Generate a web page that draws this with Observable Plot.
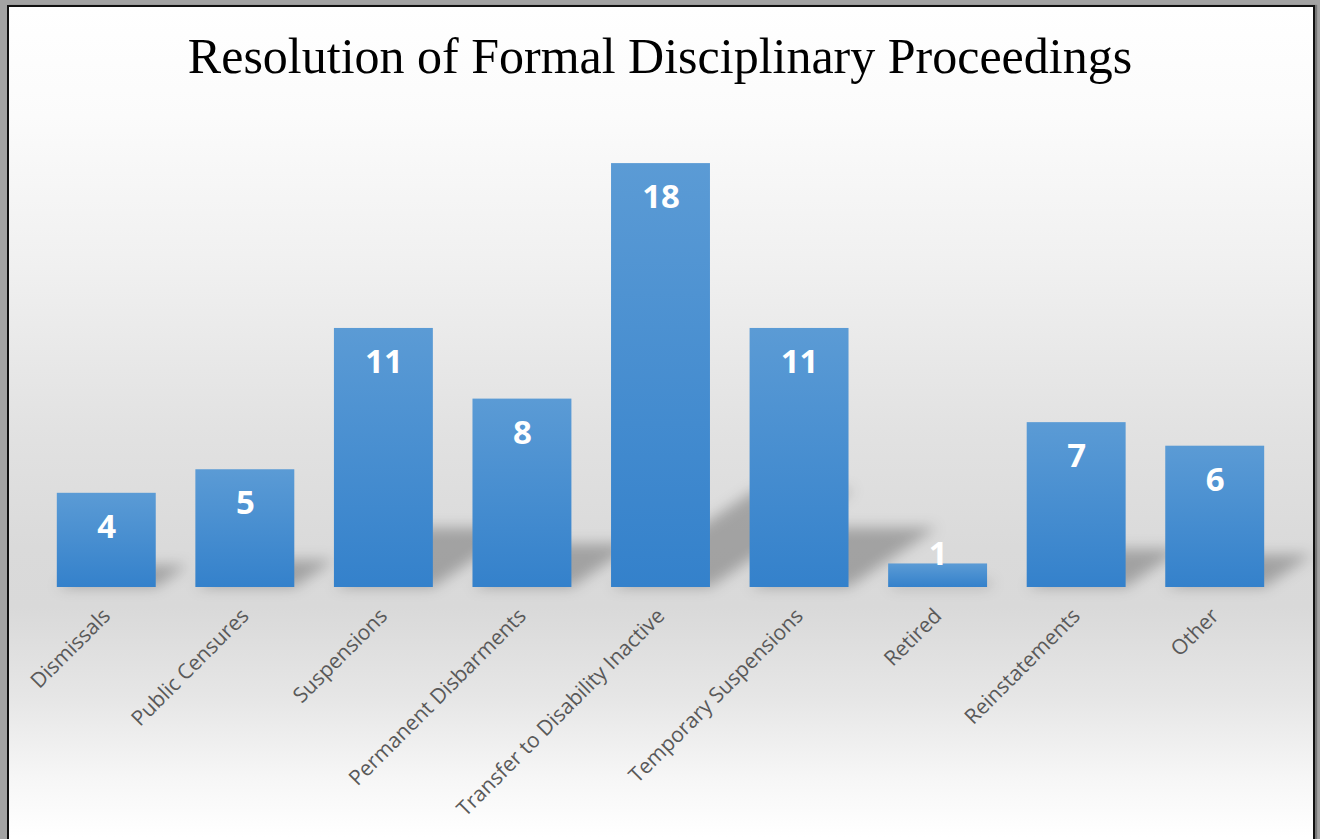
<!DOCTYPE html>
<html><head><meta charset="utf-8">
<script src="https://cdn.jsdelivr.net/npm/d3@7"></script>
<script src="https://cdn.jsdelivr.net/npm/@observablehq/plot@0.6"></script>
<style>
html,body{margin:0;padding:0;width:1320px;height:839px;overflow:hidden;background:#a3a3a3;}
#frame{position:absolute;left:7px;top:5px;width:1304px;height:900px;border:2px solid #111;
  box-shadow:2px 0 1px #777;
  background:linear-gradient(to bottom,#ffffff 0px,#fbfbfb 110px,#f0f0f0 260px,#e2e2e2 420px,#dadada 540px,#d9d9d9 600px,#e6e6e6 690px,#f6f6f6 770px,#ffffff 830px);}
#title{position:absolute;left:0;top:31px;width:1320px;text-align:center;font-family:"Liberation Serif",serif;font-size:50px;line-height:50px;color:#000;}
#chart{position:absolute;left:0;top:95px;}
</style></head>
<body>
<div id="frame"></div>
<div id="title">Resolution of Formal Disciplinary Proceedings</div>
<div id="chart"></div>
<script>
const categories = ["Dismissals","Public Censures","Suspensions","Permanent Disbarments","Transfer to Disability Inactive","Temporary Suspensions","Retired","Reinstatements","Other"];
const values = [4,5,11,8,18,11,1,7,6];
const yDomain = [0,20];
const data = categories.map((c,i)=>({category:c, value:values[i]}));

const plot = Plot.plot({
  width:1320, height:744, marginTop:21, marginBottom:252, marginLeft:37, marginRight:36,
  style:{background:"transparent", color:"#595959", fontFamily:"Open Sans", overflow:"visible"},
  x:{domain:categories, paddingInner:0.286, paddingOuter:0.143, round:false, label:null},
  y:{domain:yDomain, axis:null},
  marks:[
    Plot.barY(data,{x:"category", y:"value", fill:"#000", fillOpacity:0.26}),
    Plot.barY(data,{x:"category", y:"value", fill:"url(#barGrad)"}),
    Plot.text(data,{x:"category", y:d=>Math.max(d.value-1.45,1.4), text:d=>String(d.value), fill:"white", fontSize:33, fontWeight:"bold", fontFamily:"Open Sans"}),
    Plot.axisX({tickRotate:-45, tickSize:0, tickPadding:25, fontSize:21, label:null, fontFamily:"Open Sans"})
  ]
});
document.getElementById("chart").appendChild(plot);

const svg = d3.select(plot);
svg.selectAll('g[aria-label="x-axis tick label"], g[aria-label="x-axis tick label"] text').style("font-size","21px");
const defs = svg.insert("defs",":first-child");
const grad = defs.append("linearGradient").attr("id","barGrad").attr("x1",0).attr("y1",0).attr("x2",0).attr("y2",1);
grad.append("stop").attr("offset","0%").attr("stop-color","#5b9bd5");
grad.append("stop").attr("offset","100%").attr("stop-color","#3481cb");
const filt = defs.append("filter").attr("id","blur").attr("filterUnits","userSpaceOnUse")
  .attr("x",0).attr("y",0).attr("width",1320).attr("height",744);
filt.append("feGaussianBlur").attr("stdDeviation",7);

const base = 744-252;
const shadowG = plot.querySelectorAll('g[aria-label="bar"]')[0];
const wrap = document.createElementNS("http://www.w3.org/2000/svg","g");
shadowG.parentNode.insertBefore(wrap, shadowG);
wrap.appendChild(shadowG);
wrap.setAttribute("filter","url(#blur)");
const prev = shadowG.getAttribute("transform") || "";
shadowG.setAttribute("transform", `translate(0,${base}) skewX(-56) scale(1,0.23) translate(0,${-base}) ${prev}`);
</script>
</body></html>
